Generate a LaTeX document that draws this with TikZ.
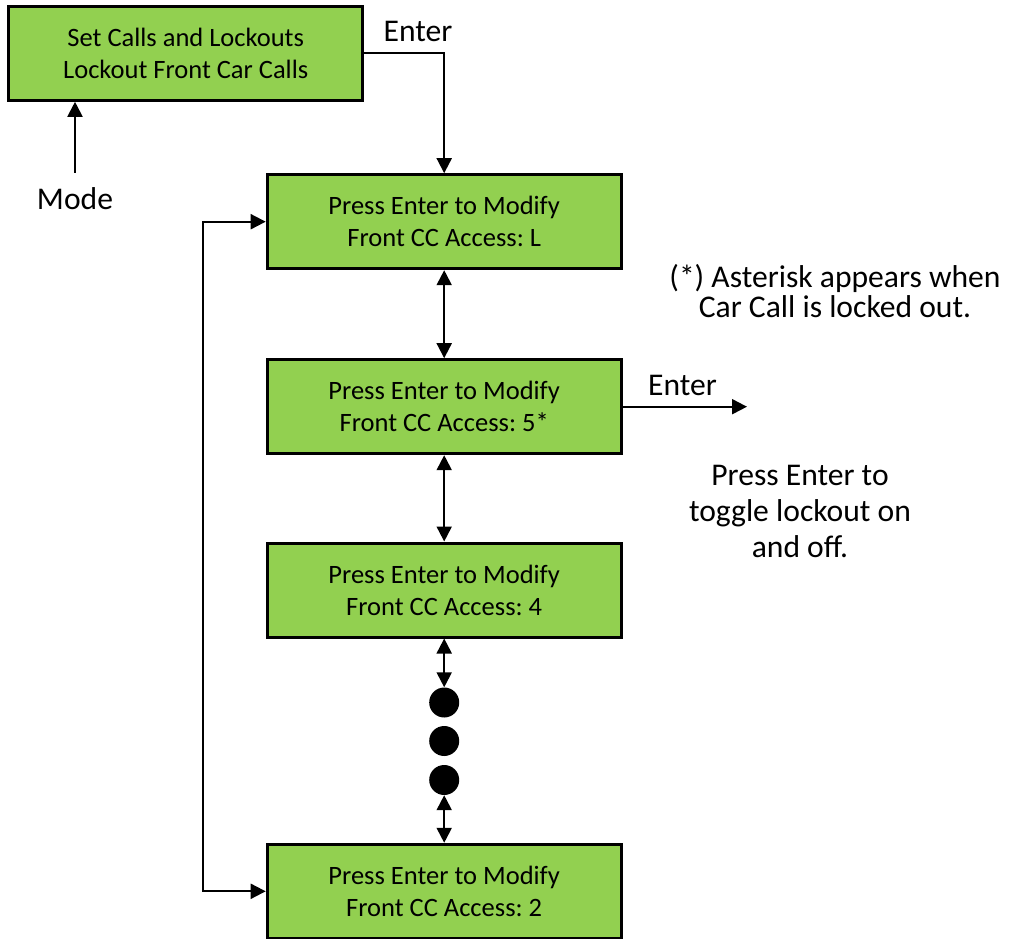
\documentclass[tikz,border=0pt]{standalone}
\usepackage{fontspec}
\setmainfont{Carlito}
\usetikzlibrary{arrows.meta}
\definecolor{panelgreen}{HTML}{92D050}
\frenchspacing
\begin{document}
\begin{tikzpicture}[x=1pt,y=-1pt,
  screen/.style={draw=black, line width=3pt, fill=panelgreen,
    minimum width=354pt, minimum height=94pt, inner sep=0pt,
    align=center, font=\fontsize{26.5}{32}\selectfont},
  wire/.style={line width=2pt, draw=black},
  tip/.style={-{Triangle[length=15pt,width=15pt]}},
  both/.style={{Triangle[length=15pt,width=15pt]}-{Triangle[length=15pt,width=15pt]}},
  lbl/.style={font=\fontsize{31.6}{36}\selectfont, inner sep=0pt, anchor=base},
  dot/.style={circle, fill=black, minimum size=30pt, inner sep=0pt},
]
\useasboundingbox (0,0) rectangle (1010,939);

% menu screens
\node[screen] (menu) at (185.75,53.3) {Set Calls and Lockouts\\Lockout Front Car Calls};
\node[screen] (ccL) at (444.2,221.7) {Press Enter to Modify\\Front CC Access: L};
\node[screen] (cc5) at (444.2,406.7) {Press Enter to Modify\\Front CC Access: 5*};
\node[screen] (cc4) at (444.2,590) {Press Enter to Modify\\Front CC Access: 4};
\node[screen] (cc2) at (444.2,891.3) {Press Enter to Modify\\Front CC Access: 2};

% continuation dots
\node[dot] (d1) at (444.2,702.5) {};
\node[dot] (d2) at (444.2,741) {};
\node[dot] (d3) at (444.2,780) {};

% free ends
\coordinate (modefoot) at (75,173);
\coordinate (loopx) at (203,0);
\coordinate (toggleend) at (747,0);

% connectors
\draw[wire,tip] (menu.east) -| (ccL.north);
\draw[wire,tip] (modefoot) -- (modefoot |- menu.south);
\draw[wire,both] (ccL.south) -- (cc5.north);
\draw[wire,both] (cc5.south) -- (cc4.north);
\draw[wire,both] (cc4.south) -- (d1.north);
\draw[wire,both] (d3.south) -- (cc2.north);
\draw[wire,both] (ccL.west) -- (loopx |- ccL.west) -- (loopx |- cc2.west) -- (cc2.west);
\draw[wire,tip] (cc5.east) -- (toggleend |- cc5.east);

% labels
\node[lbl] (enter1) at (418,42) {Enter};
\node[lbl] (mode) at (75,210) {Mode};
\node[lbl] (enter2) at (682.5,395) {Enter};
\node[lbl] (ast1) at (835,287) {(*) Asterisk appears when};
\node[lbl] (ast2) at (835,317) {Car Call is locked out.};
\node[lbl] (tog1) at (800,485) {Press Enter to};
\node[lbl] (tog2) at (800,521) {toggle lockout on};
\node[lbl] (tog3) at (800,557) {and off.};
\end{tikzpicture}
\end{document}
